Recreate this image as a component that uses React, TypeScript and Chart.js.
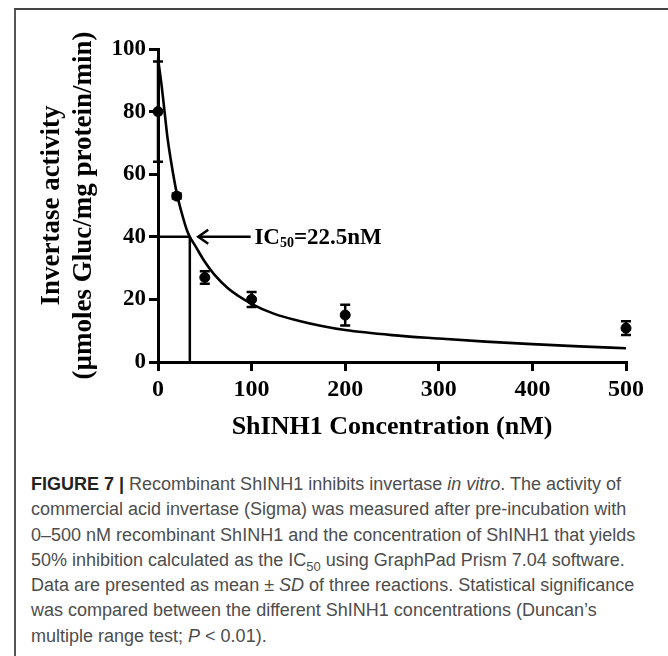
import React, { useEffect, useRef } from "react";
import { Chart, registerables } from "chart.js";

Chart.register(...registerables);

// Measured points (mean ± SD)
const concentrations = [0, 20, 50, 100, 200, 500];
const activityMean = [80, 53, 27, 20, 15, 10.8];
const activitySD = [16, 0.8, 2, 2.4, 3.3, 2.2];

// Fitted curve
const fitX = [0, 4, 7, 10, 14, 20, 25, 31, 34, 40, 50, 60, 75, 100, 125, 150, 175, 200, 250, 300, 350, 400, 450, 500];
const fitY = [97, 88, 80, 72, 64, 54, 48, 42, 40, 37, 32, 28, 23.5, 18.6, 15.3, 13.2, 11.5, 10.2, 8.6, 7.5, 6.5, 5.7, 5.0, 4.4];

// Axes
const xTicks = [0, 100, 200, 300, 400, 500];
const yTicks = [0, 20, 40, 60, 80, 100];
const xTitle = "ShINH1 Concentration (nM)";
const yTitle = ["Invertase activity", "(µmoles Gluc/mg protein/min)"];

// IC50 annotation
const ic50LineX = 34;
const ic50LineY = 40;
const arrowTipX = 43;
const arrowTailX = 99;
const labelStartX = 103;
const labelMain = "IC";
const labelSub = "50";
const labelRest = "=22.5nM";

const SERIF = '"Liberation Serif", "Times New Roman", serif';

const overlayPlugin = {
  id: "overlay",
  afterDatasetsDraw(chart: any) {
    const { ctx, scales } = chart;
    const x = scales.x;
    const y = scales.y;
    ctx.save();
    ctx.strokeStyle = "#000";
    ctx.fillStyle = "#000";
    ctx.lineWidth = 2.5;
    ctx.lineCap = "butt";
    // error bars
    concentrations.forEach((c, i) => {
      const px = x.getPixelForValue(c);
      const top = y.getPixelForValue(activityMean[i] + activitySD[i]);
      const bot = y.getPixelForValue(activityMean[i] - activitySD[i]);
      ctx.beginPath();
      ctx.moveTo(px, top);
      ctx.lineTo(px, bot);
      ctx.moveTo(px - 5, top);
      ctx.lineTo(px + 5, top);
      ctx.moveTo(px - 5, bot);
      ctx.lineTo(px + 5, bot);
      ctx.stroke();
    });
    // IC50 guide lines
    const ix = x.getPixelForValue(ic50LineX);
    const iy = y.getPixelForValue(ic50LineY);
    ctx.lineWidth = 2.5;
    ctx.beginPath();
    ctx.moveTo(x.left, iy);
    ctx.lineTo(ix, iy);
    ctx.moveTo(ix, iy);
    ctx.lineTo(ix, y.bottom);
    ctx.stroke();
    // arrow
    const tip = x.getPixelForValue(arrowTipX);
    const tail = x.getPixelForValue(arrowTailX);
    ctx.beginPath();
    ctx.moveTo(tail, iy);
    ctx.lineTo(tip + 1, iy);
    ctx.stroke();
    ctx.beginPath();
    ctx.moveTo(tip + 10, iy - 7);
    ctx.lineTo(tip, iy);
    ctx.lineTo(tip + 10, iy + 7);
    ctx.stroke();
    // label
    let lx = x.getPixelForValue(labelStartX);
    ctx.textBaseline = "middle";
    ctx.textAlign = "left";
    ctx.font = `bold 23px ${SERIF}`;
    ctx.fillText(labelMain, lx, iy + 1);
    lx += ctx.measureText(labelMain).width;
    ctx.font = `bold 14px ${SERIF}`;
    ctx.fillText(labelSub, lx, iy + 7);
    lx += ctx.measureText(labelSub).width;
    ctx.font = `bold 23px ${SERIF}`;
    ctx.fillText(labelRest, lx, iy + 1);
    ctx.restore();
  },
};

function ChartCanvas() {
  const ref = useRef<HTMLCanvasElement | null>(null);
  useEffect(() => {
    if (!ref.current) return;
    const chart = new Chart(ref.current, {
      type: "scatter",
      data: {
        datasets: [
          {
            type: "line",
            label: "fit",
            data: fitX.map((v, i) => ({ x: v, y: fitY[i] })),
            borderColor: "#000",
            borderWidth: 2.6,
            pointRadius: 0,
            cubicInterpolationMode: "monotone",
            fill: false,
            clip: false,
          } as any,
          {
            type: "scatter",
            label: "data",
            data: concentrations.map((c, i) => ({ x: c, y: activityMean[i] })),
            backgroundColor: "#000",
            borderColor: "#000",
            pointRadius: 5,
            clip: false,
          } as any,
        ],
      },
      options: {
        animation: false,
        responsive: false,
        events: [],
        layout: { padding: { top: 49, right: 42, left: 0, bottom: 0 } },
        plugins: { legend: { display: false }, tooltip: { enabled: false } },
        scales: {
          x: {
            type: "linear",
            min: 0,
            max: 500,
            afterFit: (s: any) => {
              s.height = 108;
            },
            afterBuildTicks: (s: any) => {
              s.ticks = xTicks.map((v) => ({ value: v }));
            },
            border: { display: true, color: "#000", width: 3 },
            grid: { display: true, drawOnChartArea: false, drawTicks: true, tickLength: 9, color: "#000", lineWidth: 3 },
            ticks: {
              color: "#000",
              padding: 4,
              font: { family: SERIF, size: 24, weight: "bold" },
            },
            title: {
              display: true,
              text: xTitle,
              color: "#000",
              font: { family: SERIF, size: 26, weight: "bold", lineHeight: 1.2 },
              padding: { top: 0, bottom: 27 },
            },
          },
          y: {
            type: "linear",
            min: 0,
            max: 100,
            afterFit: (s: any) => {
              s.width = 158;
            },
            afterBuildTicks: (s: any) => {
              s.ticks = yTicks.map((v) => ({ value: v }));
            },
            border: { display: true, color: "#000", width: 3 },
            grid: { display: true, drawOnChartArea: false, drawTicks: true, tickLength: 9, color: "#000", lineWidth: 3 },
            ticks: {
              color: "#000",
              padding: 3,
              font: { family: SERIF, size: 23, weight: "bold" },
            },
            title: {
              display: true,
              text: yTitle,
              color: "#000",
              font: { family: SERIF, size: 27, weight: "bold", lineHeight: 1.15 },
              padding: { top: 37, bottom: 0 },
            },
          },
        },
      } as any,
      plugins: [overlayPlugin],
    });
    return () => chart.destroy();
  }, []);
  return <canvas ref={ref} width={668} height={470} style={{ position: "absolute", left: 0, top: 0, width: 668, height: 470 }} />;
}

const capStyle: React.CSSProperties = {
  position: "absolute",
  left: 31,
  top: 472,
  fontFamily: '"Liberation Sans", Arial, sans-serif',
  fontSize: 18,
  lineHeight: "25.3px",
  color: "#4d4d4d",
  whiteSpace: "nowrap",
};

export default function App() {
  return (
    <div style={{ position: "absolute", left: 0, top: 0, width: 668, height: 656, overflow: "hidden", background: "#fff" }}>
      <div
        style={{
          position: "absolute",
          left: 14,
          top: 8,
          width: 720,
          height: 720,
          borderTop: "2px solid #444",
          borderLeft: "2px solid #555",
        }}
      />
      <ChartCanvas />
      <div style={capStyle}>
        <div>
          <b style={{ color: "#222" }}>FIGURE 7 |</b> Recombinant ShINH1 inhibits invertase <i>in vitro</i>. The activity of
        </div>
        <div>commercial acid invertase (Sigma) was measured after pre-incubation with</div>
        <div>0–500 nM recombinant ShINH1 and the concentration of ShINH1 that yields</div>
        <div>
          50% inhibition calculated as the IC<sub style={{ fontSize: 13, lineHeight: 0 }}>50</sub> using GraphPad Prism 7.04 software.
        </div>
        <div>
          Data are presented as mean ± <i>SD</i> of three reactions. Statistical significance
        </div>
        <div>was compared between the different ShINH1 concentrations (Duncan’s</div>
        <div>
          multiple range test; <i>P</i> &lt; 0.01).
        </div>
      </div>
    </div>
  );
}
